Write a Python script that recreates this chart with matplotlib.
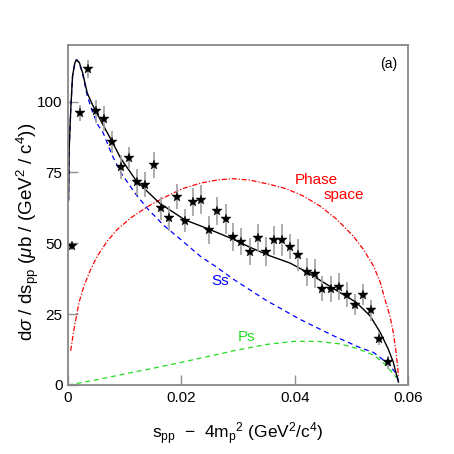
import matplotlib
matplotlib.use("Agg")
import matplotlib.pyplot as plt

plt.rcParams['font.family'] = ['Liberation Sans', 'DejaVu Sans']
plt.rcParams['mathtext.fontset'] = 'custom'
plt.rcParams['mathtext.rm'] = 'Liberation Sans'
plt.rcParams['mathtext.it'] = 'Liberation Sans:italic'

# measured points
data_x = [0.00076, 0.00218, 0.00359, 0.00494, 0.00635, 0.00776, 0.0093, 0.0107,
          0.0122, 0.0136, 0.0151, 0.0164, 0.0178, 0.0193, 0.0207, 0.0221, 0.0235,
          0.0249, 0.0263, 0.0278, 0.0292, 0.0306, 0.0321, 0.0335, 0.0349, 0.0364,
          0.0378, 0.0392, 0.0406, 0.0421, 0.0435, 0.0449, 0.0464, 0.0478, 0.0492,
          0.0506, 0.0521, 0.0535, 0.0549, 0.0564]
data_y = [49.0, 96.0, 111.5, 96.6, 93.9, 85.8, 76.9, 80.0, 71.6, 70.7, 77.6, 62.4,
          58.9, 66.5, 58.0, 64.5, 65.4, 54.8, 61.3, 58.5, 52.2, 50.6, 47.0, 51.8,
          47.0, 51.1, 51.1, 48.8, 45.9, 39.9, 39.3, 34.0, 33.8, 34.7, 31.9, 28.4,
          31.9, 26.3, 16.4, 8.1]
data_err = [1.3, 2.9, 3.3, 4.0, 4.4, 4.0, 4.1, 3.9, 4.6, 4.4, 4.7, 4.1, 4.4, 4.4,
            4.1, 5.0, 5.0, 5.0, 4.9, 5.3, 5.0, 4.9, 4.7, 5.0, 5.1, 5.1, 5.6, 4.4,
            5.5, 4.8, 5.0, 4.4, 4.6, 4.7, 4.4, 3.8, 3.8, 3.8, 2.3, 2.3]

# total fit (black)
total_x = [0.0001, 0.0002, 0.0005, 0.0008, 0.0012, 0.0015, 0.002, 0.0026, 0.0034,
           0.0043, 0.0049, 0.0064, 0.0078, 0.0093, 0.0121, 0.0162, 0.0206, 0.0251,
           0.0292, 0.0321, 0.0356, 0.0392, 0.0421, 0.0451, 0.048, 0.0509, 0.0533,
           0.0551, 0.0565, 0.0574, 0.058, 0.0583]
total_y = [65.5, 83, 98, 109, 113.6, 114.8, 113.8, 110, 103, 99, 96.6, 91, 85.8,
           80, 71.9, 64.1, 58.3, 54.8, 51.4, 48.6, 45.6, 43, 39.9, 36.2, 32.6,
           29.1, 24.4, 18.5, 12.7, 8, 3.3, 1.0]

# Ss (blue)
ss_x = [0.0001, 0.0002, 0.0005, 0.0008, 0.0012, 0.0015, 0.002, 0.0026, 0.0034,
        0.0043, 0.0052, 0.0062, 0.0078, 0.0093, 0.0119, 0.014, 0.0169, 0.0198,
        0.0233, 0.0265, 0.0292, 0.0351, 0.0409, 0.0468, 0.0515, 0.0539, 0.0562,
        0.058, 0.0583]
ss_y = [65, 83, 98, 109, 113.6, 114.8, 113.6, 109.5, 102, 96.5, 92, 89, 81, 75,
        67.5, 62.3, 56.3, 51.5, 45.5, 41.2, 37.3, 29.7, 23.2, 17.4, 13.2, 11.5,
        8, 3.9, 1.5]

# Ps (green)
ps_x = [0.0, 0.005, 0.01, 0.015, 0.02, 0.025, 0.03, 0.035, 0.04, 0.044, 0.048,
        0.051, 0.054, 0.056, 0.058]
ps_y = [0, 1.8, 3.9, 5.9, 8.0, 10.2, 12.4, 14.3, 15.4, 15.4, 14.5, 12.9, 10.5,
        7.2, 2.5]

# phase space (red)
phsp_x = [0.00047, 0.00106, 0.00194, 0.00282, 0.004, 0.00517, 0.00694, 0.0087,
          0.0111, 0.014, 0.0169, 0.0202, 0.0235, 0.0265, 0.0292, 0.0321, 0.0356,
          0.0386, 0.0415, 0.0445, 0.0474, 0.0503, 0.0521, 0.0539, 0.0551, 0.0559,
          0.0568, 0.0574, 0.0579, 0.0583]
phsp_y = [12.1, 19.7, 29.1, 35.0, 40.8, 45.5, 50.8, 54.9, 59.0, 62.9, 66.1, 69.3,
          71.3, 72.4, 72.8, 72.3, 70.8, 69.2, 66.7, 63.1, 58.5, 52.6, 47.9, 42.0,
          36.2, 30.3, 24.4, 18.5, 11.5, 3.3]

fig = plt.figure(figsize=(4.54, 4.54), dpi=100)
ax = fig.add_axes([0.1498, 0.152, 0.749, 0.749])

ax.plot(phsp_x, phsp_y, color='red', lw=0.9, dashes=(4, 1.5, 1, 1.5))
ax.plot(ss_x, ss_y, color='blue', lw=0.9, dashes=(4, 3))
ax.plot(ps_x, ps_y, color='#22dd22', lw=0.9, dashes=(4, 3))
ax.plot(total_x, total_y, color='black', lw=1.0)

ax.errorbar(data_x, data_y, yerr=data_err, fmt='none', ecolor='#a0a0a0',
            elinewidth=1.2, capsize=0)
ax.plot(data_x, data_y, '*', color='black', markersize=7,
        markeredgecolor='black', markeredgewidth=0.3)

ax.text(0.0268, 36.6, 'Ss', color='blue', fontsize=11, ha='center', va='center')
ax.text(0.0315, 16.9, 'Ps', color='#22dd22', fontsize=11, ha='center', va='center')
ax.text(0.0439, 72.2, 'Phase', color='red', fontsize=11, ha='center', va='center')
ax.text(0.0487, 66.9, 'space', color='red', fontsize=11, ha='center', va='center')
ax.text(0.0565, 113.4, '(a)', color='black', fontsize=10, ha='center', va='center')

ax.set_xlim(0, 0.06)
ax.set_ylim(0, 120)
ax.set_xticks([0, 0.02, 0.04, 0.06])
ax.set_xticklabels(['0', '0.02', '0.04', '0.06'])
ax.set_yticks([0, 25, 50, 75, 100])
ax.tick_params(direction='in', length=7, width=1, color='#909090',
               labelsize=11, pad=4)
for s in ax.spines.values():
    s.set_color('#888888')
    s.set_linewidth(1.3)

ax.set_xlabel(r'$\mathrm{s_{pp}}$  $-$  4m$_\mathrm{p}$$^2$ (GeV$^2$/c$^4$)',
              fontsize=12.5)
ax.xaxis.set_label_coords(0.4985, -0.103)
ax.set_ylabel(r'd$\sigma$ / ds$_{\mathrm{pp}}$ ($\mu$b / (GeV$^2$ / c$^4$))',
              fontsize=13.5, va='center')
ax.yaxis.set_label_coords(-0.118, 0.451)

fig.savefig('out.png', dpi=100)
